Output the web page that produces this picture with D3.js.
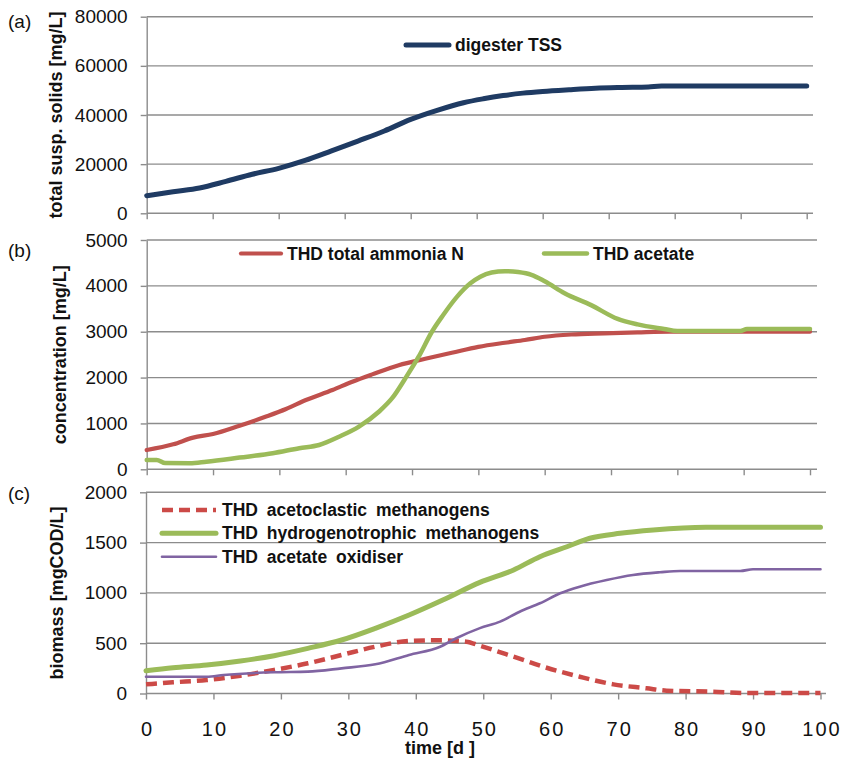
<!DOCTYPE html>
<html><head><meta charset="utf-8">
<script src="https://cdn.jsdelivr.net/npm/d3@7/dist/d3.min.js"></script>
<style>
body{margin:0;background:#fff}
text{font-family:"Liberation Sans",Arial,sans-serif;fill:#111}
</style>
</head><body>
<svg id="chart" width="845" height="761"></svg>
<script>
// ---------- DATA ----------
const xTickValues = [0,10,20,30,40,50,60,70,80,90,100];

// (a) digester TSS [mg/L]
const tssDays   = [0,4,8,12,16,20,24,28,32,36,40,44,48,51,54,57,60,64,68,72,76,78,100];
const tssValues = [7150,8800,10300,13000,15900,18300,21500,25400,29400,33500,38200,41900,45000,46600,47900,48900,49600,50300,50900,51200,51400,51750,51750];
const yTicksA = [0,20000,40000,60000,80000];

// (b) THD total ammonia N and THD acetate [mg/L]
const ammoniaDays   = [0,4,7,10,14,18,21,24,28,31,34,38,42,46,50,54,57,60,64,69,74,79,100];
const ammoniaValues = [420,545,690,770,950,1150,1315,1510,1730,1910,2070,2270,2410,2540,2670,2760,2820,2890,2940,2965,2985,3000,3000];
const acetateDays   = [0,1.5,2.8,6.5,9,14,19,23,26,29,32,35,37,39,41,43,44.7,46.8,48.8,50.3,52,54,56,58,60,63,67,71,74,78,80,89.5,90.5,100];
const acetateValues = [205,205,135,130,165,255,350,460,530,710,930,1255,1550,1985,2455,3000,3365,3765,4055,4200,4290,4320,4300,4240,4100,3840,3580,3280,3160,3060,3015,3015,3060,3060];
const yTicksB = [0,1000,2000,3000,4000,5000];

// (c) biomass [mgCOD/L]
const acetoclasticDays   = [0,4,9,14,19,24,29,34,39,43.6,47.5,49.5,54.5,59.4,64.3,69.3,74.2,77.2,84,89,100];
const acetoclasticValues = [91,111,134,177,234,300,383,465,522,529,515,475,366,256,167,91,52,28,18,5,5];
const hydroDays   = [0,4,9,14,19,24,29,34,39,44,49.5,54.5,58.4,62.4,65.8,70.3,75.2,83,100];
const hydroValues = [227,256,283,323,376,449,532,648,780,929,1105,1228,1360,1459,1543,1592,1625,1652,1652];
const oxidiserDays   = [0,9,11.5,19,24,29,34,39,43.6,46,49.5,52.5,55.4,58.4,61.4,64.3,68.3,72.2,76.2,79.2,88.1,90,100];
const oxidiserValues = [167,167,184,211,217,250,290,383,465,549,650,714,813,897,996,1062,1128,1178,1205,1218,1218,1235,1235];
const yTicksC = [0,500,1000,1500,2000];

// ---------- DRAW ----------
const svg = d3.select("#chart");
const GRID = "#8c8c8c";

function makePanel(o){
  const g = svg.append("g");
  const x = d3.scaleLinear().domain([0,100]).range([o.x0,o.x1]);
  const y = d3.scaleLinear().domain([0,o.ymax]).range([o.yb,o.yt]);
  // gridlines
  g.selectAll("line.grid").data(o.yTicks).enter().append("line")
    .attr("x1",o.x0).attr("x2",o.gridEnd)
    .attr("y1",d=>y(d)).attr("y2",d=>y(d))
    .attr("stroke",GRID).attr("stroke-width",1.4);
  // y axis
  const ya = g.append("g").attr("transform",`translate(${o.x0},0)`)
    .call(d3.axisLeft(y).tickValues(o.yTicks).tickSize(6).tickSizeOuter(0).tickPadding(13).tickFormat(d3.format("d")));
  ya.select(".domain").attr("stroke",GRID).attr("stroke-width",1.4);
  ya.selectAll(".tick line").attr("stroke",GRID).attr("stroke-width",1.4);
  ya.selectAll(".tick text").style("font-size","19px").style("font-family","Liberation Sans, Arial, sans-serif").attr("fill","#111");
  // x axis
  const xa = g.append("g").attr("transform",`translate(0,${o.yb})`)
    .call(d3.axisBottom(x).tickValues(xTickValues).tickSize(6).tickSizeOuter(0).tickPadding(22)
      .tickFormat(o.xLabels ? d3.format("d") : ""));
  xa.select(".domain").remove();
  xa.selectAll(".tick line").attr("stroke",GRID).attr("stroke-width",1.4);
  xa.selectAll(".tick text").style("font-size","20px").style("letter-spacing","2px")
    .style("font-family","Liberation Sans, Arial, sans-serif").attr("fill","#111").attr("dx","1px");
  // y title
  g.append("text").attr("transform",`translate(${o.titleX},${(o.yt+o.yb)/2}) rotate(-90)`)
    .attr("text-anchor","middle").attr("dominant-baseline","central")
    .style("font-size","18px").style("font-weight","bold").text(o.yTitle);
  // panel tag
  g.append("text").attr("x",8).attr("y",o.tagY).attr("dominant-baseline","central")
    .style("font-size","19px").text(o.tag);
  // series
  o.series.forEach(s=>{
    const pts = s.days.map((d,i)=>[d,s.values[i]]);
    g.append("path").datum(pts)
      .attr("d", d3.line().x(d=>x(d[0])).y(d=>y(d[1])).curve(d3.curveMonotoneX))
      .attr("fill","none").attr("stroke",s.color).attr("stroke-width",s.width)
      .attr("stroke-linejoin","round").attr("stroke-linecap",s.dash?"butt":"round")
      .attr("stroke-dasharray",s.dash||null);
  });
  // legend
  o.legend.forEach(l=>{
    const s = o.series[l.i];
    g.append("line").attr("x1",l.x).attr("x2",l.x+l.len).attr("y1",l.y).attr("y2",l.y)
      .attr("stroke",s.color).attr("stroke-width",s.width).attr("stroke-linecap",s.dash?"butt":"round")
      .attr("stroke-dasharray",s.dash||null);
    g.append("text").attr("x",l.x+l.len+6).attr("y",l.y).attr("dominant-baseline","central")
      .style("font-size","17.5px").style("font-weight","bold").style("word-spacing",l.ws||"0px")
      .text(s.name);
  });
  return {x,y};
}

makePanel({
  x0:146.7, x1:806.7, gridEnd:813, yb:213.3, yt:16.7, ymax:80000, yTicks:yTicksA,
  yTitle:"total susp. solids [mg/L]", titleX:56, tag:"(a)", tagY:21,
  series:[{name:"digester TSS", days:tssDays, values:tssValues, color:"#1f3b63", width:5}],
  legend:[{i:0, x:406, y:45, len:43}]
});

makePanel({
  x0:146.7, x1:810, gridEnd:817, yb:469.3, yt:240, ymax:5000, yTicks:yTicksB,
  yTitle:"concentration [mg/L]", titleX:60, tag:"(b)", tagY:250,
  series:[
    {name:"THD total ammonia N", days:ammoniaDays, values:ammoniaValues, color:"#c0504d", width:4.2},
    {name:"THD acetate", days:acetateDays, values:acetateValues, color:"#9bbb59", width:4.5}
  ],
  legend:[{i:0, x:241, y:253.5, len:40},{i:1, x:544, y:253.5, len:43}]
});

makePanel({
  x0:146, x1:820.5, gridEnd:826, yb:693.5, yt:492.3, ymax:2000, yTicks:yTicksC,
  yTitle:"biomass [mgCOD/L]", titleX:57, tag:"(c)", tagY:493, xLabels:true,
  series:[
    {name:"THD acetoclastic methanogens", days:acetoclasticDays, values:acetoclasticValues, color:"#cc4a47", width:4.5, dash:"11,6"},
    {name:"THD hydrogenotrophic methanogens", days:hydroDays, values:hydroValues, color:"#9bbb59", width:5},
    {name:"THD acetate oxidiser", days:oxidiserDays, values:oxidiserValues, color:"#8064a2", width:2.6}
  ],
  legend:[
    {i:0, x:162, y:510, len:54, ws:"4px"},
    {i:1, x:162, y:533.3, len:54, ws:"4px"},
    {i:2, x:162, y:556.7, len:54, ws:"4px"}
  ]
});

svg.append("text").attr("x",440).attr("y",748).attr("text-anchor","middle").attr("dominant-baseline","central")
  .style("font-size","18px").style("font-weight","bold").text("time [d ]");
</script>
</body></html>
